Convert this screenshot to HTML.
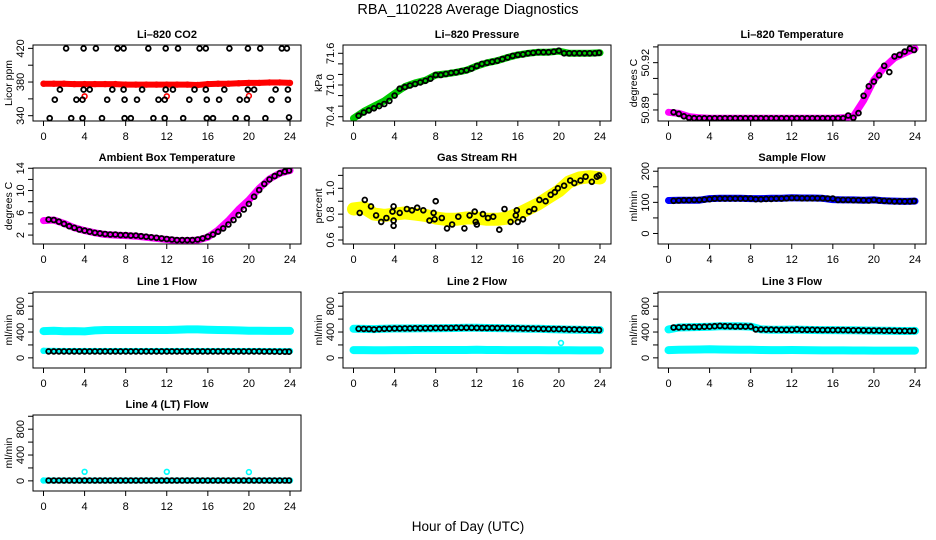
<!DOCTYPE html>
<html><head><meta charset="utf-8"><style>
body{margin:0;background:#fff;}
svg{display:block;font-family:"Liberation Sans",sans-serif;}
</style></head><body>
<svg id="chart" width="936" height="540" viewBox="0 0 936 540" xmlns="http://www.w3.org/2000/svg">
<rect width="936" height="540" fill="#fff"/>
<text x="468" y="14" font-size="14.5" text-anchor="middle" fill="#000">RBA_110228  Average Diagnostics</text>
<text x="468" y="531" font-size="13.5" text-anchor="middle" fill="#000">Hour of Day (UTC)</text>
</svg>
<script>
// ---- data ----
const hoursC = [0,1,2,3,4,5,6,7,8,9,10,11,12,13,14,15,16,17,18,19,20,21,22,23,24];
const hoursB = [0.5,1,1.5,2,2.5,3,3.5,4,4.5,5,5.5,6,6.5,7,7.5,8,8.5,9,9.5,10,10.5,11,11.5,12,12.5,13,13.5,14,14.5,15,15.5,16,16.5,17,17.5,18,18.5,19,19.5,20,20.5,21,21.5,22,22.5,23,23.5,23.9];
const xTicks = [0,4,8,12,16,20,24];

const co2Red = [378,378,378,377.5,377.5,377.5,377.5,377.5,377,377,377,377,377,377,377,376.5,377.5,378,378,378.5,379,379,379.5,379.5,379];
const co2OutT = [4,12,20];
const co2OutV = [363,363,363.5];
const co2BlackT = [2.2,3.9,5.1,7.2,7.8,10.2,11.9,13.1,15.2,15.8,18.1,19.9,21.1,23.2,23.7, 1.6,3.9,4.5,6.7,7.8,9.6,11.9,12.6,14.7,15.8,17.6,19.9,20.5,22.6,23.8, 1.1,3.2,3.8,6.2,7.9,9.1,11.2,11.8,14.2,15.9,17.1,19.1,19.8,22.2,23.8, 0.6,2.7,3.8,5.7,7.9,8.5,10.7,11.8,13.6,15.9,16.5,18.7,19.8,21.6,23.9];
const co2BlackV = [420,420,420,420,420,420,420,420,420,420,420,420,420,420,420, 371,371,371,371,371,371,371,371,371,371,371,371,371,371,371, 359,359,359,359,359,359,359,359,359,359,359,359,359,359,359, 337,337,337,337,337,337,337,337,337,337,337,337,337,337,338];

const presGreen = [70.37,70.50,70.60,70.70,70.84,70.97,71.04,71.09,71.19,71.21,71.24,71.28,71.36,71.42,71.46,71.52,71.57,71.60,71.62,71.62,71.64,71.60,71.60,71.60,71.61];
const presBlack = [70.42,70.48,70.52,70.56,70.60,70.64,70.70,70.80, 70.93,70.96,70.99,71.02,71.05,71.08,71.12,71.19, 71.19,71.21,71.23,71.24,71.26,71.28,71.31,71.36, 71.40,71.42,71.44,71.46,71.49,71.52,71.55,71.57, 71.58,71.60,71.61,71.62,71.62,71.62,71.63,71.65, 71.60,71.60,71.60,71.60,71.60,71.60,71.60,71.61];

const tempPink = [50.8885,50.8878,50.8858,50.8850,50.8847,50.8847,50.8847,50.8847,50.8847,50.8847,50.8847,50.8847,50.8847,50.8847,50.8847,50.8847,50.8847,50.8850,50.8860,50.8960,50.9090,50.9170,50.9230,50.9260,50.9290];
const tempBlack = [50.8885,50.8875,50.8860,50.8850,50.8848,50.8847,50.8847,50.8847, 50.8847,50.8847,50.8847,50.8847,50.8847,50.8847,50.8847,50.8847, 50.8847,50.8847,50.8847,50.8847,50.8847,50.8847,50.8847,50.8847, 50.8847,50.8847,50.8847,50.8847,50.8847,50.8847,50.8847,50.8847, 50.8847,50.8847,50.8865,50.8850,50.8880,50.8990,50.9050,50.9080, 50.9120,50.9180,50.9140,50.9240,50.9250,50.9270,50.9290,50.9280];

const ambPink = [4.6,4.7,4.1,3.3,2.8,2.4,2.1,2.0,1.9,1.8,1.6,1.4,1.2,1.0,1.0,1.1,1.6,2.9,4.6,6.6,8.3,10.4,12.1,13.1,13.6];
const ambBlack = [4.8,4.7,4.4,4.0,3.6,3.3,3.0,2.8, 2.6,2.4,2.3,2.2,2.1,2.1,2.0,2.0, 1.9,1.9,1.8,1.7,1.6,1.5,1.4,1.3, 1.2,1.1,1.1,1.1,1.1,1.2,1.4,1.7, 2.1,2.6,3.2,3.9,4.7,5.6,6.6,7.6, 8.9,10.1,11.2,12.0,12.6,13.1,13.4,13.6];

const rhYellow = [0.84,0.85,0.80,0.79,0.80,0.81,0.80,0.79,0.77,0.76,0.76,0.77,0.77,0.76,0.76,0.77,0.80,0.84,0.88,0.93,0.98,1.05,1.08,1.09,1.08];
const rhBlackT = [0.6,1.1,1.7,2.2,2.7,3.2,3.8,3.9,3.9,3.9,4.5,5.2,5.7,6.2,6.8,7.4,7.9,7.8,8.0,8.6,9.1,9.6,10.2,10.8,11.3,11.8,11.9,12.0,12.6,13.1,13.6,14.2,14.7,15.3,15.8,15.9,16.0,16.5,17.1,17.6,18.1,18.7,19.2,19.6,19.9,20.5,21.1,21.5,22.1,22.6,23.2,23.7,23.9];
const rhBlackV = [0.81,0.91,0.86,0.79,0.74,0.77,0.82,0.86,0.75,0.71,0.81,0.84,0.83,0.85,0.83,0.75,0.76,0.81,0.90,0.77,0.69,0.72,0.78,0.69,0.79,0.82,0.74,0.72,0.80,0.77,0.78,0.68,0.84,0.74,0.79,0.83,0.74,0.76,0.82,0.84,0.91,0.90,0.95,0.97,1.00,1.02,1.06,1.04,1.06,1.09,1.05,1.09,1.10];

const flowBlue = [106,107,107,107,112,113,113,113,112,112,113,113,115,114,114,113,109,108,108,107,108,105,104,103,104];
const flowBlack = [105,106,107,107,108,108,109,110, 112,112,112,112,112,112,112,112, 110,110,111,111,112,112,113,114, 114,113,113,113,113,113,112,112, 108,108,108,107,107,107,106,108, 106,105,104,103,103,103,103,104];

const l1High = [415,420,412,415,410,425,432,432,432,432,432,432,432,435,440,440,435,432,430,425,420,420,418,418,418];
const l1Low = [110,108,106,106,106,106,106,106,106,106,106,106,106,106,106,106,106,106,106,106,106,106,104,104,104];
const l1Black = [100,100,100,100,100,100,100,100, 100,100,100,100,100,100,100,100, 100,100,100,100,100,100,100,100, 100,100,100,100,100,100,100,100, 100,100,100,100,100,100,100,100, 100,100,98,98,97,96,96,95];

const l2High = [450,448,445,452,455,455,456,457,458,460,462,465,465,462,460,458,455,452,450,445,440,438,435,432,430];
const l2Low = [120,120,118,118,120,120,122,122,122,122,122,122,125,122,122,120,120,120,120,118,118,118,116,116,116];
const l2Black = [450,449,447,440,445,450,452,455, 455,456,456,457,457,458,459,460, 461,462,463,465,466,466,465,464, 463,462,462,461,460,459,458,457, 455,453,452,450,448,447,446,445, 443,441,440,438,436,435,433,430];
const l2OutT = [20.2];
const l2OutV = [230];

const l3High = [440,470,474,478,482,488,490,488,484,440,436,434,438,434,432,430,430,428,426,424,422,420,418,416,418];
const l3Low = [120,124,128,130,132,130,128,126,124,122,120,120,122,120,118,116,115,115,114,114,113,113,112,112,112];
const l3Black = [470,472,474,476,478,480,482,484, 490,495,490,488,486,485,484,484, 440,440,438,437,436,435,434,434, 440,435,434,434,433,432,431,430, 430,429,428,427,426,425,424,423, 422,421,420,419,418,417,416,418];

const l4Cyan = [5,5,5,5,5,5,5,5,5,5,5,5,5,5,5,5,5,5,5,5,5,5,5,5,5];
const l4Black = [5,5,5,5,5,5,5,5, 5,5,5,5,5,5,5,5, 5,5,5,5,5,5,5,5, 5,5,5,5,5,5,5,5, 5,5,5,5,5,5,5,5, 5,5,5,5,5,5,5,5];
const l4OutT = [4,12,20];
const l4OutV = [140,140,135];

// ---- drawing ----
const svg = document.getElementById('chart');
const NS = 'http://www.w3.org/2000/svg';
const colLeft = [33, 343, 658];
const rowTop = [45, 168, 292, 415];
const BW = 268, BH = 76, X0 = 10.5, XW = 246.5;

function mk(tag, attrs, parent) {
  const e = document.createElementNS(NS, tag);
  for (const k in attrs) e.setAttribute(k, attrs[k]);
  (parent || svg).appendChild(e);
  return e;
}

function panel(col, row, name, title, ylab, ymin, ymax, yTicks, yLabels, layers) {
  const L = colLeft[col], T = rowTop[row];
  const g = mk('g', {});
  
  
  const xs = t => L + X0 + t / 24 * XW;
  const ys = v => T + BH - (v - ymin) / (ymax - ymin) * BH;
  const clip = mk('clipPath', {id: 'c' + name}, g);
  mk('rect', {x: L, y: T, width: BW, height: BH}, clip);
  const sg = mk('g', {'clip-path': 'url(#c' + name + ')'}, g);
  layers.forEach(ly => {
    const lg = mk('g', {}, sg);
    
    
    if (ly.band) {
      let d = '';
      ly.t.forEach((t, i) => { d += (i ? 'L' : 'M') + xs(t).toFixed(1) + ' ' + ys(ly.v[i]).toFixed(1); });
      mk('path', {d: d, fill: 'none', stroke: ly.color, 'stroke-width': ly.band, 'stroke-linejoin': 'round', 'stroke-linecap': 'round'}, lg);
    }
    const sw = ly.color === '#000' ? 1.8 : 1.6;
    ly.t.forEach((t, i) => {
      const c = mk('circle', {cx: xs(t).toFixed(1), cy: ys(ly.v[i]).toFixed(1), r: 2.4, fill: 'none', stroke: ly.color, 'stroke-width': sw}, lg);
      
      
    });
  });
  const box = mk('rect', {x: L, y: T, width: BW, height: BH, fill: 'none', stroke: '#000', 'stroke-width': 1}, g);
  
  
  const tt = mk('text', {x: L + BW / 2, y: T - 7, 'font-size': 11, 'font-weight': 'bold', 'text-anchor': 'middle'}, g);
  tt.textContent = title;
  
  
  const xa = mk('g', {}, g);
  
  
  xTicks.forEach(t => {
    mk('line', {x1: xs(t), x2: xs(t), y1: T + BH, y2: T + BH + 5, stroke: '#000'}, xa);
    const tx = mk('text', {x: xs(t), y: T + BH + 19, 'font-size': 11, 'text-anchor': 'middle'}, xa);
    tx.textContent = t;
    
    
  });
  const ya = mk('g', {}, g);
  
  
  yTicks.forEach(v => {
    mk('line', {x1: L - 5, x2: L, y1: ys(v), y2: ys(v), stroke: '#000'}, ya);
  });
  yLabels.forEach(v => {
    const tx = mk('text', {x: 0, y: 0, 'font-size': 11, 'text-anchor': 'middle', transform: 'translate(' + (L - 9) + ',' + ys(v).toFixed(1) + ') rotate(-90)'}, ya);
    tx.textContent = v;
    
    
  });
  const yl = mk('text', {x: 0, y: 0, 'font-size': 10.5, 'text-anchor': 'middle', transform: 'translate(' + (L - 21) + ',' + (T + BH / 2) + ') rotate(-90)'}, g);
  yl.textContent = ylab;
  
  
}

const flowTicks = [0, 200, 400, 600, 800, 1000];
const flowLabels = [0, 400, 800];

panel(0, 0, 'co2', 'Li\u2013820 CO2', 'Licor ppm', 333.7, 424, [340, 360, 380, 400, 420], [340, 380, 420], [
  {name: 'co2-series', t: hoursC, v: co2Red, color: '#ff0000', band: 6},
  {name: 'co2-outliers', t: co2OutT, v: co2OutV, color: '#ff0000'},
  {name: 'co2-averages', t: co2BlackT, v: co2BlackV, color: '#000'}]);
panel(1, 0, 'pressure', 'Li\u2013820 Pressure', 'kPa', 70.319, 71.757, [70.4, 70.6, 70.8, 71.0, 71.2, 71.4, 71.6], ['70.4', '71.0', '71.6'], [
  {name: 'pressure-series', t: hoursC, v: presGreen, color: '#00cc00', band: 7},
  {name: 'pressure-averages', t: hoursB, v: presBlack, color: '#000'}]);
panel(2, 0, 'li820-temp', 'Li\u2013820 Temperature', 'degrees C', 50.883, 50.9312, [50.89, 50.90, 50.91, 50.92, 50.93], ['50.89', '50.92'], [
  {name: 'temp-series', t: hoursC, v: tempPink, color: '#ff00ff', band: 7},
  {name: 'temp-averages', t: hoursB, v: tempBlack, color: '#000'}]);
panel(0, 1, 'ambient', 'Ambient Box Temperature', 'degrees C', 0.395, 14.05, [2, 4, 6, 8, 10, 12, 14], [2, 6, 10, 14], [
  {name: 'ambient-series', t: hoursC, v: ambPink, color: '#ff00ff', band: 7},
  {name: 'ambient-averages', t: hoursB, v: ambBlack, color: '#000'}]);
panel(1, 1, 'rh', 'Gas Stream RH', 'percent', 0.569, 1.157, [0.6, 0.7, 0.8, 0.9, 1.0, 1.1], ['0.6', '0.8', '1.0'], [
  {name: 'rh-series', t: hoursC, v: rhYellow, color: '#ffff00', band: 13},
  {name: 'rh-averages', t: rhBlackT, v: rhBlackV, color: '#000'}]);
panel(2, 1, 'sample-flow', 'Sample Flow', 'ml/min', -33.8, 210.4, [0, 50, 100, 150, 200], [0, 100, 200], [
  {name: 'sample-flow-series', t: hoursC, v: flowBlue, color: '#0000ff', band: 7},
  {name: 'sample-flow-averages', t: hoursB, v: flowBlack, color: '#000'}]);
panel(0, 2, 'line1', 'Line 1 Flow', 'ml/min', -157, 1019.6, flowTicks, flowLabels, [
  {name: 'line1-high-series', t: hoursC, v: l1High, color: '#00ffff', band: 8},
  {name: 'line1-low-series', t: hoursC, v: l1Low, color: '#00ffff', band: 6},
  {name: 'line1-averages', t: hoursB, v: l1Black, color: '#000'}]);
panel(1, 2, 'line2', 'Line 2 Flow', 'ml/min', -157, 1019.6, flowTicks, flowLabels, [
  {name: 'line2-high-series', t: hoursC, v: l2High, color: '#00ffff', band: 8},
  {name: 'line2-low-series', t: hoursC, v: l2Low, color: '#00ffff', band: 8},
  {name: 'line2-outliers', t: l2OutT, v: l2OutV, color: '#00ffff'},
  {name: 'line2-averages', t: hoursB, v: l2Black, color: '#000'}]);
panel(2, 2, 'line3', 'Line 3 Flow', 'ml/min', -157, 1019.6, flowTicks, flowLabels, [
  {name: 'line3-high-series', t: hoursC, v: l3High, color: '#00ffff', band: 8},
  {name: 'line3-low-series', t: hoursC, v: l3Low, color: '#00ffff', band: 8},
  {name: 'line3-averages', t: hoursB, v: l3Black, color: '#000'}]);
panel(0, 3, 'line4', 'Line 4 (LT) Flow', 'ml/min', -157, 1019.6, flowTicks, flowLabels, [
  {name: 'line4-series', t: hoursC, v: l4Cyan, color: '#00ffff', band: 6},
  {name: 'line4-outliers', t: l4OutT, v: l4OutV, color: '#00ffff'},
  {name: 'line4-averages', t: hoursB, v: l4Black, color: '#000'}]);
</script>
</body></html>
